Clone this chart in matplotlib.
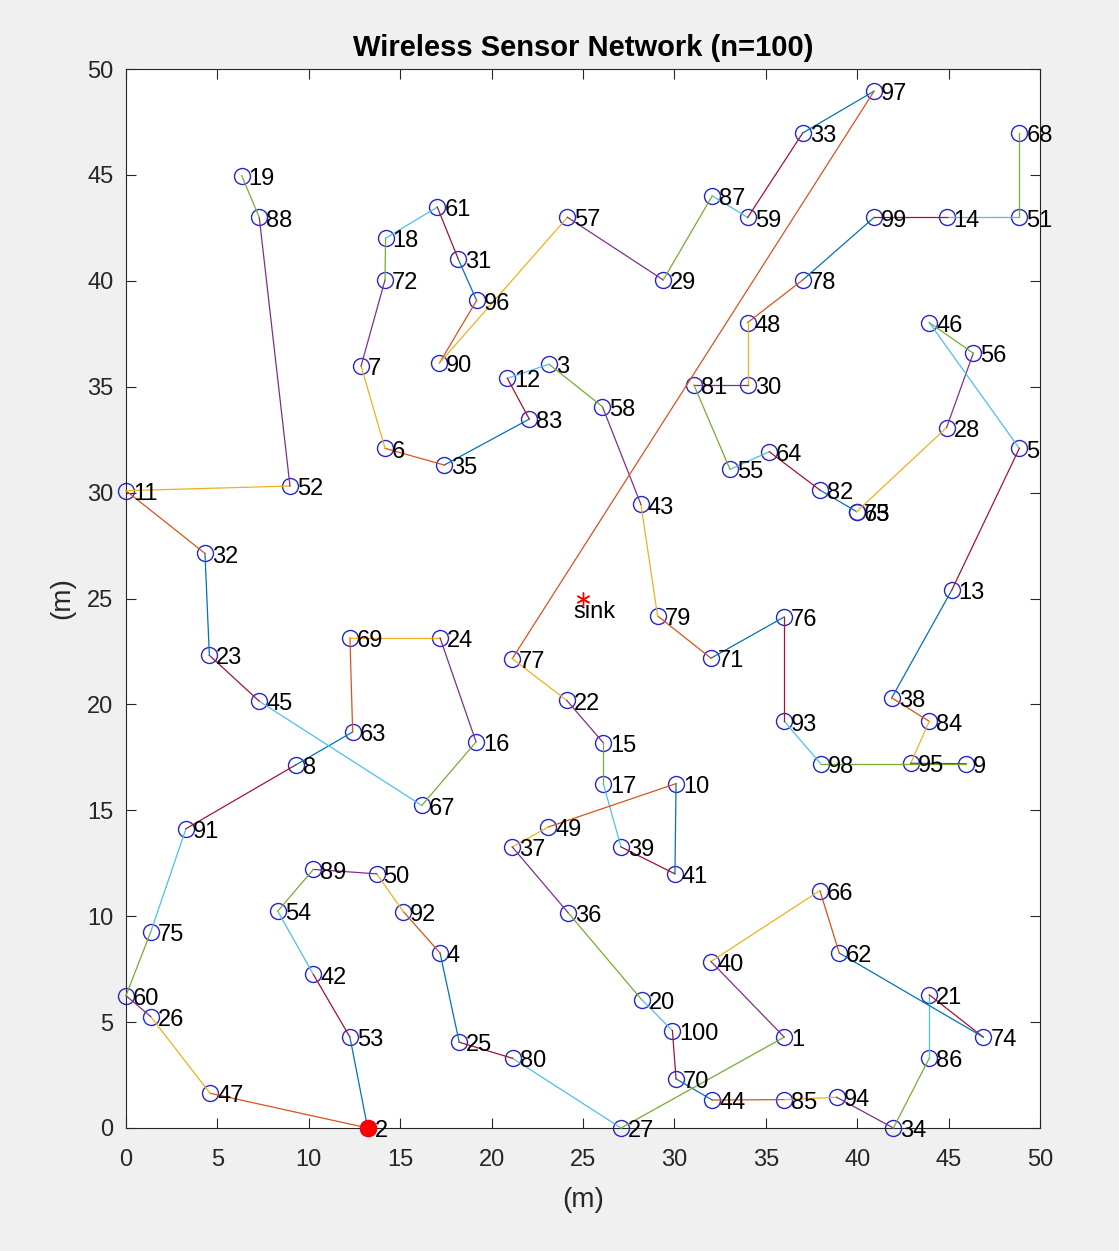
import numpy as np
import matplotlib
matplotlib.use("Agg")
from matplotlib import pyplot as plt

# node coordinates, node i is at index i - 1
node_x = [36.01, 13.22, 23.14, 17.18, 48.87, 14.17, 12.86, 9.30, 45.95, 30.09,
          0.00, 20.86, 45.17, 44.89, 26.11, 19.15, 26.11, 14.20, 6.33, 28.21,
          43.94, 24.11, 4.56, 17.18, 18.23, 1.35, 27.08, 44.89, 29.39, 34.01,
          18.18, 4.32, 37.02, 41.98, 17.41, 24.20, 21.13, 41.89, 27.08, 32.00,
          30.03, 10.25, 28.17, 32.07, 7.29, 43.94, 4.60, 34.01, 23.10, 13.71,
          48.87, 8.97, 12.25, 8.30, 33.04, 46.35, 24.15, 26.06, 34.01, 0.00,
          17.03, 39.02, 12.40, 35.19, 39.97, 37.96, 16.18, 48.87, 12.25, 30.09,
          32.00, 14.17, 39.97, 46.90, 1.35, 36.01, 21.13, 37.02, 29.08, 21.15,
          31.07, 37.96, 22.06, 43.94, 36.01, 43.94, 32.07, 7.29, 10.25, 17.14,
          3.28, 15.17, 36.01, 38.88, 42.93, 19.18, 40.92, 38.00, 40.92, 29.89]
node_y = [4.29, 0.00, 36.06, 8.26, 32.09, 32.09, 35.98, 17.15, 17.20, 16.26,
          30.09, 35.40, 25.39, 42.99, 18.19, 18.23, 16.26, 42.01, 44.97, 6.06,
          6.29, 20.19, 22.32, 23.14, 4.05, 5.26, 0.00, 33.07, 40.04, 35.08,
          41.02, 27.13, 46.98, 0.00, 31.30, 10.15, 13.27, 20.31, 13.27, 7.86,
          12.00, 7.25, 29.44, 1.32, 20.15, 38.03, 1.64, 38.03, 14.21, 12.00,
          42.99, 30.31, 4.29, 10.24, 31.10, 36.58, 43.00, 34.06, 42.99, 6.25,
          43.48, 8.26, 18.70, 31.93, 29.10, 11.21, 15.23, 46.98, 23.14, 2.32,
          22.18, 40.04, 29.10, 4.29, 9.25, 24.13, 22.16, 40.04, 24.18, 3.29,
          35.08, 30.12, 33.47, 19.20, 1.34, 3.29, 44.01, 42.99, 12.21, 36.11,
          14.13, 10.22, 19.20, 1.45, 17.22, 39.07, 48.95, 17.20, 42.99, 4.60]

# order of the nodes along the chain
chain = [68, 51, 14, 99, 78, 48, 30, 81, 55, 64, 82, 65, 73, 28, 56, 46, 5, 13, 38, 84,
         95, 9, 98, 93, 76, 71, 79, 43, 58, 3, 12, 83, 35, 6, 7, 72, 18, 61, 31, 96,
         90, 57, 29, 87, 59, 33, 97, 77, 22, 15, 17, 39, 41, 10, 49, 37, 36, 20, 100, 70,
         44, 85, 94, 34, 86, 21, 74, 62, 66, 40, 1, 27, 80, 25, 4, 92, 50, 89, 54, 42,
         53, 2, 47, 26, 60, 75, 91, 8, 63, 69, 24, 16, 67, 45, 23, 32, 11, 52, 88, 19]

sink_x, sink_y = 25.0, 25.0
leader = 2
n_nodes = 100

# matlab default line colours
line_colors = [(0, 0.447, 0.741), (0.85, 0.325, 0.098), (0.929, 0.694, 0.125),
               (0.494, 0.184, 0.556), (0.466, 0.674, 0.188), (0.301, 0.745, 0.933),
               (0.635, 0.078, 0.184)]
COLOR_OFFSET = 4
AXIS_GRAY = (0.15, 0.15, 0.15)

plt.rcParams['font.family'] = ['Liberation Sans', 'DejaVu Sans']

W, H = 1119, 1251
fig = plt.figure(figsize=(W / 100, H / 100), dpi=100, facecolor='#f0f0f0')
ax = fig.add_axes([126 / W, 1 - 1128 / H, (1040 - 126) / W, (1128 - 69) / H])

x = np.array(node_x)
y = np.array(node_y)

ax.plot(x, y, 'o', markersize=11.5, markerfacecolor='none',
        markeredgecolor=(0.15, 0.15, 0.8), markeredgewidth=1.0, zorder=2, clip_on=False)

for k in range(len(chain) - 1):
    a, b = chain[k] - 1, chain[k + 1] - 1
    ax.plot([x[a], x[b]], [y[a], y[b]], '-', lw=0.9, clip_on=False,
            color=line_colors[(k + COLOR_OFFSET) % len(line_colors)], zorder=3)

for i in range(n_nodes):
    ax.text(x[i] + 0.38, y[i] - 0.15, str(i + 1), fontsize=17, va='center', ha='left',
            color='black', zorder=4)

ax.plot(x[leader - 1], y[leader - 1], 'o', markersize=11.5, color='red',
        markeredgecolor='red', zorder=5, clip_on=False)

ax.plot(sink_x, sink_y, marker=(6, 2, 0), markersize=10, color='red',
        markeredgewidth=1.0, zorder=5)
ax.text(sink_x - 0.5, sink_y - 0.65, 'sink', fontsize=17, va='center', ha='left')

ax.set_xlim(0, 50)
ax.set_ylim(0, 50)
ax.set_xticks(np.arange(0, 51, 5))
ax.set_yticks(np.arange(0, 51, 5))
ax.tick_params(direction='in', top=True, right=True, length=7.5, width=0.8,
               labelsize=17, colors=AXIS_GRAY)
ax.tick_params(axis='x', pad=15)
ax.tick_params(axis='y', pad=9)
for s in ax.spines.values():
    s.set_color(AXIS_GRAY)
    s.set_linewidth(0.8)

ax.set_title('Wireless Sensor Network (n=100)', fontsize=21, fontweight='bold', pad=9)
ax.set_xlabel('(m)', fontsize=20, color=AXIS_GRAY)
ax.set_ylabel('(m)', fontsize=20, color=AXIS_GRAY)
ax.xaxis.label.set_va('center')
ax.yaxis.label.set_va('center')
ax.xaxis.set_label_coords(0.5, -0.068)
ax.yaxis.set_label_coords(-0.07, 0.5)

fig.savefig('out.png', dpi=100, facecolor=fig.get_facecolor())
